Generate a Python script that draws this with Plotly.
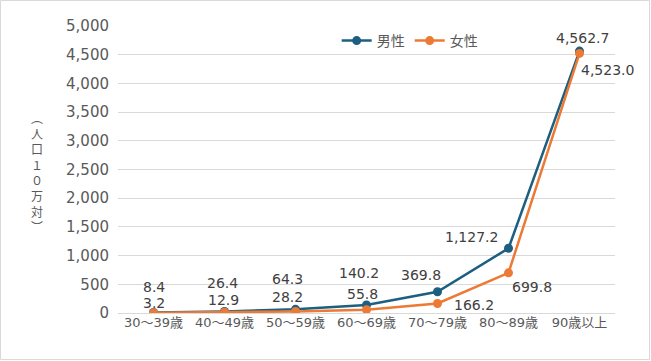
import plotly.graph_objects as go

categories = ["30～39歳", "40～49歳", "50～59歳", "60～69歳", "70～79歳", "80～89歳", "90歳以上"]
male = [8.4, 26.4, 64.3, 140.2, 369.8, 1127.2, 4562.7]
female = [3.2, 12.9, 28.2, 55.8, 166.2, 699.8, 4523.0]
y_ticks = [0, 500, 1000, 1500, 2000, 2500, 3000, 3500, 4000, 4500, 5000]

# label offsets (px) relative to each point: (dx, dy) with dy negative = up
male_off = [(0, -26), (-2, -28), (-8, -30), (-8, -32), (-17, -17), (-37, -11), (3, -13)]
female_off = [(0, -10), (-1, -12), (-8, -14), (-4, -16), (36, 2), (23, 14), (28, 17)]

MALE_C = "#1c5f80"
FEMALE_C = "#ec7a35"
FONT = "DejaVu Sans, Noto Sans CJK JP"
CJK = "Noto Sans CJK JP"
TXT = "#595959"

W, H = 651, 361
L, R, T, B = 118, 36, 26, 48

fig = go.Figure()
fig.add_trace(go.Scatter(x=list(range(len(categories))), y=male, name="男性",
                         mode="lines+markers", line=dict(color=MALE_C, width=2.5),
                         marker=dict(size=9, color=MALE_C)))
fig.add_trace(go.Scatter(x=list(range(len(categories))), y=female, name="女性",
                         mode="lines+markers", line=dict(color=FEMALE_C, width=2.5),
                         marker=dict(size=9, color=FEMALE_C)))

def fmt(v):
    return f"{v:,.1f}"

ann = []
for i, (v, (dx, dy)) in enumerate(zip(male, male_off)):
    ann.append(dict(x=i, y=v, text=fmt(v), showarrow=False, xshift=dx, yshift=-dy,
                    borderpad=0, font=dict(family=FONT, size=14, color="#404040")))
for i, (v, (dx, dy)) in enumerate(zip(female, female_off)):
    ann.append(dict(x=i, y=v, text=fmt(v), showarrow=False, xshift=dx, yshift=-dy,
                    borderpad=0, font=dict(family=FONT, size=14, color="#404040")))

pw = W - L - R
ph = H - T - B

ytitle = "<br>".join(["︵", "人", "口", "１", "０", "万", "対", "︶"])
ann.append(dict(xref="paper", yref="paper", x=-(L - 37) / pw, y=(313 - 172) / ph,
                text=ytitle, showarrow=False, xanchor="center", yanchor="middle",
                font=dict(family=CJK, size=12, color=TXT)))

shapes = [dict(type="rect", xref="paper", yref="paper",
               x0=(0.5 - L) / pw, x1=(W - 1.5 - L) / pw,
               y0=-(H - 1.5 - T - ph) / ph, y1=(T - 0.5) / ph + 1,
               line=dict(color="#d9d9d9", width=1), fillcolor="rgba(0,0,0,0)", layer="below")]

fig.update_layout(
    width=W, height=H,
    margin=dict(l=L, r=R, t=T, b=B),
    paper_bgcolor="white", plot_bgcolor="white",
    font=dict(family=FONT, size=15, color=TXT),
    showlegend=True,
    legend=dict(orientation="h", x=0.44, xanchor="left", y=(313 - 41) / ph, yanchor="middle",
                font=dict(family=CJK, size=14, color=TXT), bgcolor="rgba(0,0,0,0)",
                itemwidth=30, tracegroupgap=0),
    xaxis=dict(range=[-0.5, len(categories) - 0.5], tickmode="array",
               tickvals=list(range(len(categories))), ticktext=categories,
               showgrid=False, zeroline=False, showline=False, ticks="",
               tickfont=dict(family=FONT, size=13, color=TXT)),
    yaxis=dict(range=[0, 5000], tickmode="array", tickvals=y_ticks,
               ticktext=[f"{t:,}" for t in y_ticks], showgrid=True, gridcolor="#d9d9d9",
               gridwidth=1, zeroline=True, zerolinecolor="#d9d9d9", zerolinewidth=1,
               showline=False, ticks="", ticklabelstandoff=8,
               tickfont=dict(family=FONT, size=15, color=TXT)),
    annotations=ann,
    shapes=shapes,
)

fig.write_html("out.html", config={"displayModeBar": False},
               post_script="document.body.style.margin='0';document.body.style.overflow='hidden';")
